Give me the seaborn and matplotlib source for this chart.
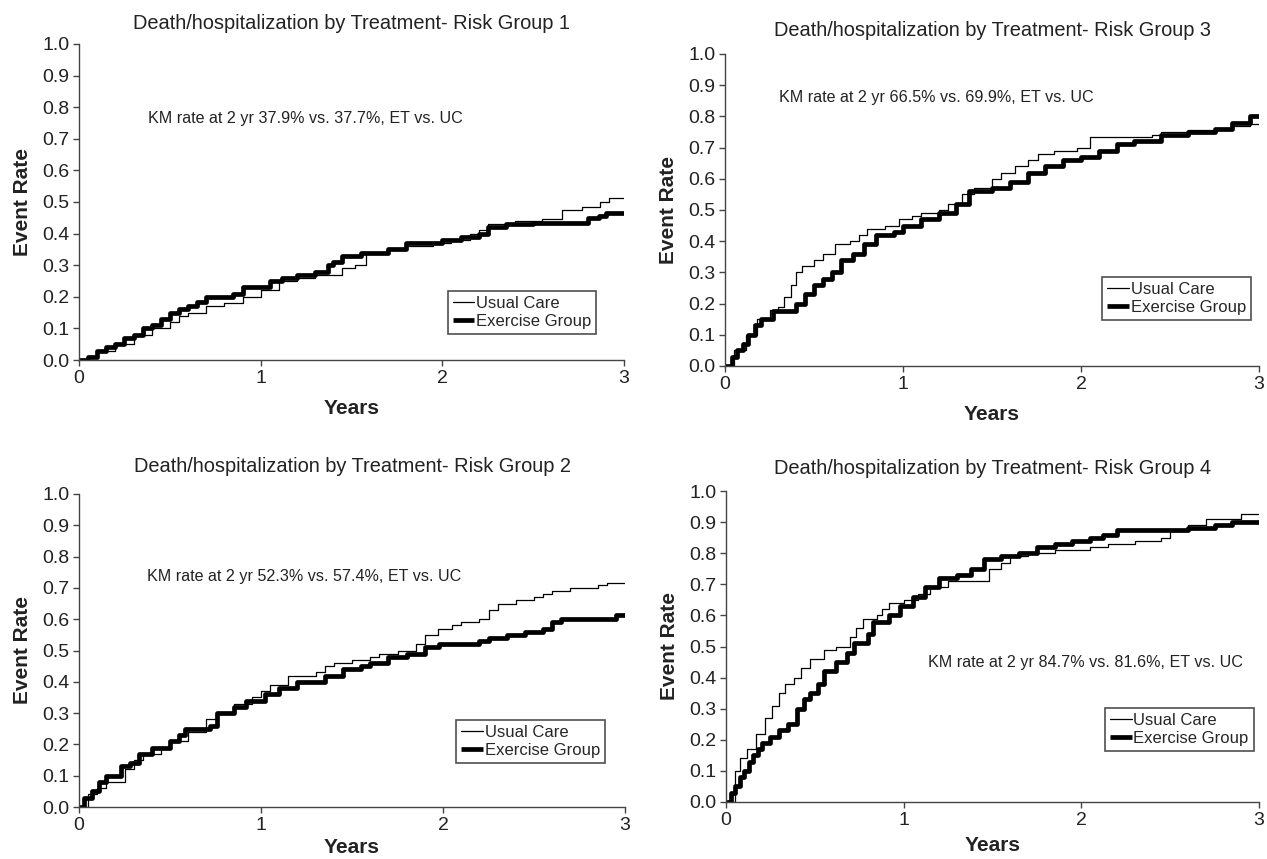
import numpy as np
import pandas as pd
import matplotlib
matplotlib.use("Agg")
import matplotlib.pyplot as plt
import seaborn as sns

sns.set_theme(style="white")
plt.rcParams['font.family'] = ['Liberation Sans', 'DejaVu Sans']

# ---------------- data ----------------
titles = ["Death/hospitalization by Treatment- Risk Group 1",
          "Death/hospitalization by Treatment- Risk Group 3",
          "Death/hospitalization by Treatment- Risk Group 2",
          "Death/hospitalization by Treatment- Risk Group 4"]
km_texts = ["KM rate at 2 yr 37.9% vs. 37.7%, ET vs. UC",
            "KM rate at 2 yr 66.5% vs. 69.9%, ET vs. UC",
            "KM rate at 2 yr 52.3% vs. 57.4%, ET vs. UC",
            "KM rate at 2 yr 84.7% vs. 81.6%, ET vs. UC"]
series_names = ["Usual Care", "Exercise Group"]

# Risk group 1
g1_uc_t = [0, 0.05, 0.1, 0.2, 0.3, 0.4, 0.5, 0.55, 0.6, 0.7, 0.8, 0.9, 1.0, 1.1, 1.2, 1.3, 1.45,
           1.52, 1.58, 1.7, 1.8, 1.95, 2.05, 2.15, 2.2, 2.25, 2.4, 2.55, 2.66, 2.77, 2.87, 2.92, 3.0]
g1_uc_r = [0, 0.01, 0.03, 0.05, 0.08, 0.10, 0.12, 0.14, 0.15, 0.17, 0.18, 0.20, 0.22, 0.25, 0.26,
           0.27, 0.29, 0.30, 0.34, 0.35, 0.36, 0.37, 0.38, 0.40, 0.41, 0.43, 0.44, 0.446, 0.475,
           0.485, 0.50, 0.512, 0.512]
g1_et_t = [0, 0.05, 0.1, 0.15, 0.2, 0.25, 0.3, 0.35, 0.4, 0.45, 0.5, 0.55, 0.6, 0.65, 0.7, 0.85,
           0.9, 1.05, 1.12, 1.2, 1.3, 1.37, 1.4, 1.45, 1.55, 1.7, 1.8, 2.0, 2.1, 2.2, 2.25, 2.35,
           2.5, 2.8, 2.86, 2.9, 3.0]
g1_et_r = [0, 0.01, 0.03, 0.04, 0.05, 0.07, 0.08, 0.10, 0.11, 0.13, 0.15, 0.16, 0.17, 0.185, 0.20,
           0.21, 0.23, 0.25, 0.26, 0.27, 0.28, 0.30, 0.31, 0.33, 0.34, 0.35, 0.37, 0.38, 0.39, 0.40,
           0.42, 0.43, 0.435, 0.45, 0.455, 0.465, 0.465]

# Risk group 3
g3_uc_t = [0, 0.05, 0.12, 0.18, 0.25, 0.3, 0.33, 0.37, 0.4, 0.43, 0.5, 0.55, 0.62, 0.7, 0.75, 0.8,
           0.9, 0.98, 1.05, 1.1, 1.2, 1.25, 1.33, 1.4, 1.5, 1.55, 1.63, 1.7, 1.76, 1.85, 1.98, 2.05,
           2.4, 2.45, 2.6, 2.75, 2.85, 2.95, 3.0]
g3_uc_r = [0, 0.05, 0.10, 0.15, 0.18, 0.19, 0.22, 0.26, 0.30, 0.32, 0.34, 0.36, 0.39, 0.40, 0.42,
           0.44, 0.45, 0.47, 0.48, 0.49, 0.50, 0.52, 0.55, 0.57, 0.60, 0.62, 0.64, 0.66, 0.68, 0.69,
           0.70, 0.735, 0.74, 0.75, 0.755, 0.76, 0.77, 0.775, 0.775]
g3_et_t = [0, 0.04, 0.07, 0.1, 0.13, 0.17, 0.2, 0.27, 0.4, 0.45, 0.5, 0.55, 0.6, 0.65, 0.72, 0.78,
           0.85, 0.95, 1.0, 1.1, 1.2, 1.3, 1.37, 1.5, 1.6, 1.7, 1.8, 1.9, 2.0, 2.1, 2.2, 2.3, 2.45,
           2.6, 2.75, 2.85, 2.95, 3.0]
g3_et_r = [0, 0.03, 0.05, 0.07, 0.10, 0.13, 0.15, 0.175, 0.20, 0.23, 0.26, 0.28, 0.30, 0.34, 0.36,
           0.39, 0.42, 0.43, 0.45, 0.47, 0.49, 0.52, 0.56, 0.57, 0.59, 0.62, 0.64, 0.66, 0.67, 0.69,
           0.71, 0.72, 0.74, 0.75, 0.76, 0.78, 0.80, 0.80]

# Risk group 2
g2_uc_t = [0, 0.05, 0.1, 0.15, 0.25, 0.3, 0.35, 0.45, 0.5, 0.6, 0.7, 0.75, 0.85, 0.95, 1.0, 1.05,
           1.15, 1.3, 1.35, 1.4, 1.5, 1.6, 1.65, 1.75, 1.85, 1.9, 1.97, 2.05, 2.1, 2.2, 2.25, 2.3,
           2.4, 2.5, 2.55, 2.6, 2.7, 2.85, 2.9, 3.0]
g2_uc_r = [0, 0.04, 0.06, 0.08, 0.12, 0.15, 0.17, 0.19, 0.21, 0.24, 0.28, 0.30, 0.33, 0.35, 0.37,
           0.39, 0.42, 0.43, 0.45, 0.46, 0.47, 0.48, 0.49, 0.50, 0.52, 0.55, 0.57, 0.58, 0.59, 0.60,
           0.63, 0.65, 0.66, 0.67, 0.68, 0.69, 0.70, 0.71, 0.715, 0.715]
g2_et_t = [0, 0.03, 0.07, 0.11, 0.15, 0.23, 0.28, 0.33, 0.4, 0.5, 0.55, 0.58, 0.72, 0.76, 0.85,
           0.92, 1.02, 1.1, 1.2, 1.35, 1.45, 1.55, 1.6, 1.7, 1.8, 1.9, 1.98, 2.2, 2.25, 2.35, 2.45,
           2.55, 2.6, 2.65, 2.95, 3.0]
g2_et_r = [0, 0.03, 0.05, 0.08, 0.10, 0.13, 0.14, 0.17, 0.19, 0.21, 0.23, 0.25, 0.26, 0.30, 0.32,
           0.34, 0.36, 0.38, 0.40, 0.42, 0.44, 0.45, 0.46, 0.48, 0.49, 0.51, 0.52, 0.53, 0.54, 0.55,
           0.56, 0.57, 0.59, 0.60, 0.615, 0.615]

# Risk group 4
g4_uc_t = [0, 0.05, 0.08, 0.12, 0.17, 0.22, 0.26, 0.3, 0.33, 0.38, 0.42, 0.47, 0.55, 0.62, 0.7,
           0.73, 0.77, 0.85, 0.88, 0.92, 1.0, 1.08, 1.15, 1.25, 1.48, 1.55, 1.6, 1.7, 1.85, 2.05,
           2.15, 2.3, 2.45, 2.5, 2.6, 2.7, 2.9, 3.0]
g4_uc_r = [0, 0.10, 0.14, 0.17, 0.22, 0.27, 0.31, 0.35, 0.38, 0.40, 0.43, 0.46, 0.49, 0.50, 0.53,
           0.56, 0.59, 0.60, 0.62, 0.64, 0.65, 0.67, 0.69, 0.71, 0.75, 0.77, 0.79, 0.80, 0.81, 0.82,
           0.83, 0.84, 0.85, 0.87, 0.89, 0.91, 0.925, 0.925]
g4_et_t = [0, 0.03, 0.05, 0.08, 0.1, 0.13, 0.15, 0.18, 0.2, 0.25, 0.3, 0.35, 0.4, 0.44, 0.47, 0.52,
           0.55, 0.62, 0.68, 0.72, 0.8, 0.83, 0.92, 0.98, 1.05, 1.12, 1.2, 1.3, 1.38, 1.45, 1.55,
           1.65, 1.75, 1.85, 1.95, 2.05, 2.12, 2.2, 2.6, 2.75, 2.85, 3.0]
g4_et_r = [0, 0.03, 0.05, 0.08, 0.10, 0.13, 0.15, 0.17, 0.19, 0.21, 0.23, 0.25, 0.30, 0.33, 0.35,
           0.38, 0.42, 0.45, 0.48, 0.51, 0.54, 0.58, 0.60, 0.63, 0.66, 0.69, 0.72, 0.73, 0.75, 0.78,
           0.79, 0.80, 0.82, 0.83, 0.84, 0.85, 0.86, 0.875, 0.88, 0.89, 0.90, 0.90]

panels = [
    (g1_uc_t, g1_uc_r, g1_et_t, g1_et_r),
    (g3_uc_t, g3_uc_r, g3_et_t, g3_et_r),
    (g2_uc_t, g2_uc_r, g2_et_t, g2_et_r),
    (g4_uc_t, g4_uc_r, g4_et_t, g4_et_r),
]
x_ticks = [0, 1, 2, 3]
y_ticks = [round(0.1 * i, 1) for i in range(11)]

# ---------------- layout ----------------
W, H = 1267, 859
fig = plt.figure(figsize=(W / 100, H / 100), dpi=100)

# pixel boxes: left, right, top(y=1.0), bottom(y=0.0)
boxes = [(79, 624, 44, 360), (725, 1259, 54, 366), (79, 625, 494, 807), (726, 1259, 491, 802)]
km_pos = [(0.38, 0.763), (0.305, 0.862), (0.374, 0.735), (1.136, 0.447)]
leg_anchor = [(0.949, 0.082), (0.985, 0.147), (0.963, 0.141), (0.99, 0.164)]
title_pad = [10.5, 13, 16, 12]
xlabel_pad = [9, 9, 3, 5]

for i, (l, r, t, b) in enumerate(boxes):
    ax = fig.add_axes([l / W, 1 - b / H, (r - l) / W, (b - t) / H])
    uc_t, uc_r, et_t, et_r = panels[i]
    df_uc = pd.DataFrame({"Years": uc_t, "Event Rate": uc_r})
    df_et = pd.DataFrame({"Years": et_t, "Event Rate": et_r})
    sns.lineplot(data=df_uc, x="Years", y="Event Rate", ax=ax, color="black",
                 linewidth=0.9, drawstyle="steps-post", label=series_names[0])
    sns.lineplot(data=df_et, x="Years", y="Event Rate", ax=ax, color="black",
                 linewidth=3.4, drawstyle="steps-post", label=series_names[1],
                 solid_capstyle="butt")
    ax.set_xlim(0, 3)
    ax.set_ylim(0, 1)
    ax.set_xticks(x_ticks)
    ax.set_yticks(y_ticks)
    ax.set_yticklabels([f"{v:.1f}" for v in y_ticks])
    ax.set_xticklabels([str(v) for v in x_ticks])
    for s in ["top", "right"]:
        ax.spines[s].set_visible(False)
    for s in ["left", "bottom"]:
        ax.spines[s].set_color("#444444")
        ax.spines[s].set_linewidth(1.0)
    ax.tick_params(axis="both", direction="out", length=4, width=1.0, color="#444444",
                   labelsize=14, labelcolor="#222222", pad=3, left=True, bottom=True)
    ax.set_xlabel("Years", fontsize=15, fontweight="bold", labelpad=xlabel_pad[i], color="#222222")
    ax.set_ylabel("Event Rate", fontsize=15, fontweight="bold", labelpad=7, color="#222222")
    ax.set_title(titles[i], fontsize=14.4, pad=title_pad[i], color="#222222")
    ax.text(km_pos[i][0], km_pos[i][1], km_texts[i], fontsize=11.6, color="#222222",
            va="center", ha="left")
    leg = ax.legend(loc="lower right", bbox_to_anchor=leg_anchor[i], frameon=True,
                    fancybox=False, shadow=False, fontsize=12, handlelength=1.3,
                    handletextpad=0.1, borderpad=0.3, labelspacing=0.2, borderaxespad=0)
    leg.get_frame().set_edgecolor("#222222")
    leg.get_frame().set_linewidth(1.2)
    ax.grid(False)

fig.savefig("out.png", dpi=100)
